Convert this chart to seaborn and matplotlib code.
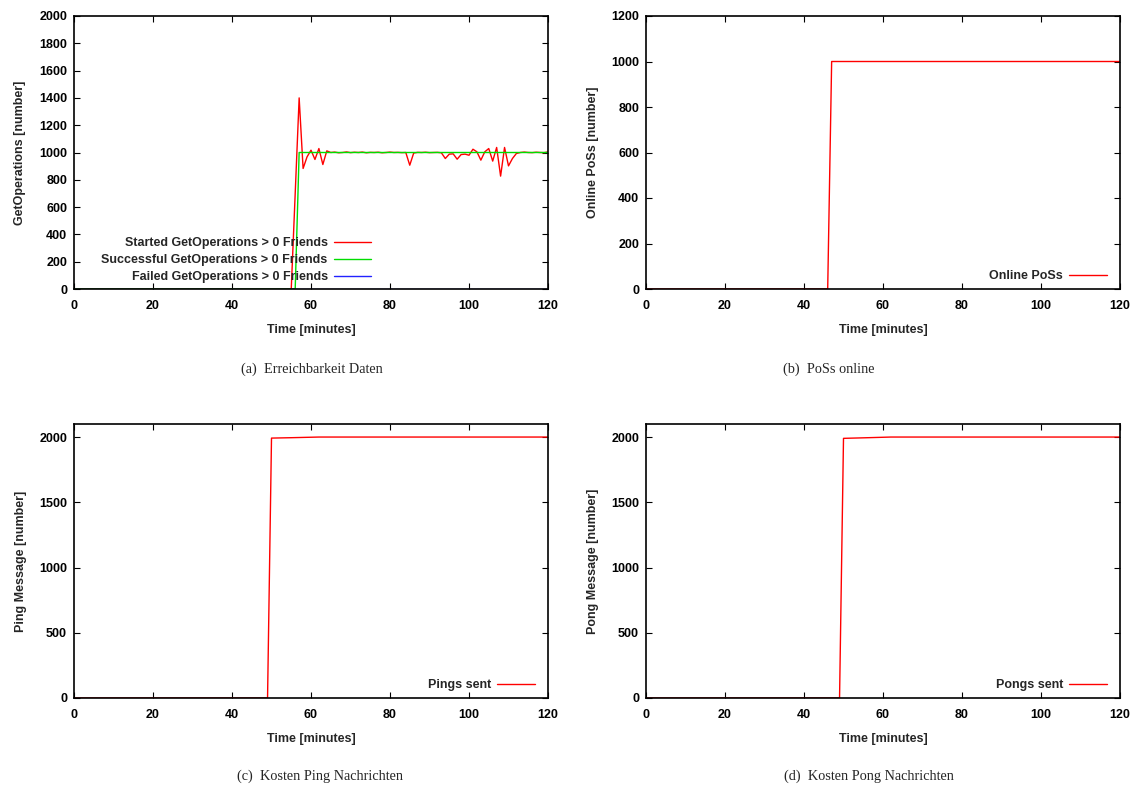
"""Four gnuplot-style panels: GetOperations, PoSs online, ping/pong costs."""
import matplotlib
matplotlib.use("Agg")
import matplotlib.pyplot as plt
import numpy as np
import pandas as pd
import seaborn as sns

# ---- data ----
# (a) GetOperations > 0 Friends, per minute breakpoints
ops_minutes = [0, 55, 56] + list(range(57, 121))
ops_started = [0, 0, 700,
               1400, 883, 968, 1017, 949, 1029, 912, 1012,            # 57-64
               1000, 1003, 998, 1000, 1004, 999, 1002, 1000, 1003, 998,  # 65-74
               1001, 1000, 1002, 998, 1000, 1003, 1000, 1001, 999, 1000,  # 75-84
               907, 996, 1001, 1000, 1002, 999, 1000, 1001, 998,          # 85-93
               956, 988, 990, 951, 985, 988, 980, 1024, 1005, 944,        # 94-103
               1005, 1029, 937, 1037, 827, 1037, 902, 956, 993, 1000,     # 104-113
               1003, 1000, 999, 1002, 1000, 999, 1004]                    # 114-120
ops_success = [0, 0, 0] + [1000] * 64
ops_failed = [0] * 67

# (b) online PoSs
poss_minutes = [0, 46, 47, 120]
poss_online = [0, 0, 1000, 1000]

# (c) pings sent, (d) pongs sent
msg_minutes = [0, 49, 50, 55, 62, 120]
pings_sent = [0, 0, 1992, 1995, 2000, 2000]
pongs_sent = [0, 0, 1990, 1994, 2000, 2000]

captions = ["(a)  Erreichbarkeit Daten", "(b)  PoSs online",
            "(c)  Kosten Ping Nachrichten", "(d)  Kosten Pong Nachrichten"]

RED, GREEN, BLUE = "#ff0000", "#00dd00", "#2222ff"
FS = 9.0


def setup_style():
    sns.set_theme(style="ticks")
    plt.rcParams["font.family"] = ["Liberation Sans", "DejaVu Sans"]
    plt.rcParams["font.weight"] = "bold"
    plt.rcParams["axes.labelweight"] = "bold"
    plt.rcParams["font.size"] = FS


def style_axes(ax, ylim, yticks, ylabel):
    ax.set_xlim(0, 120)
    ax.set_xticks(np.arange(0, 121, 20))
    ax.set_ylim(*ylim)
    ax.set_yticks(yticks)
    ax.tick_params(direction="in", top=True, right=True, length=4.5, width=0.8,
                   colors="black", labelsize=FS)
    ax.tick_params(axis="x", pad=8)
    ax.tick_params(axis="y", pad=5)
    for s in ax.spines.values():
        s.set_visible(True)
        s.set_linewidth(1.2)
        s.set_color("black")
    ax.set_xlabel("Time [minutes]", fontsize=FS, labelpad=8.5)
    ax.set_ylabel(ylabel, fontsize=FS, labelpad=9)


def add_legend(ax, anchor):
    leg = ax.legend(loc="lower right", bbox_to_anchor=anchor, frameon=False,
                    markerfirst=False, handlelength=3.0, handletextpad=0.5,
                    labelspacing=0.4, borderaxespad=0, fontsize=FS)
    for t in leg.get_texts():
        t.set_fontweight("bold")


setup_style()
fig = plt.figure(figsize=(11.37, 7.91), dpi=100)
W, H = 1137, 791


def add_ax(l, r, t, b):
    return fig.add_axes([l / W, 1 - b / H, (r - l) / W, (b - t) / H])


ax_a = add_ax(74, 548, 16, 289)
ax_b = add_ax(646, 1120, 16, 289)
ax_c = add_ax(74, 548, 424, 698)
ax_d = add_ax(646, 1120, 424, 698)

# (a)
df_a = pd.concat([
    pd.DataFrame({"t": ops_minutes, "v": ops_started, "s": "Started GetOperations > 0 Friends"}),
    pd.DataFrame({"t": ops_minutes, "v": ops_success, "s": "Successful GetOperations > 0 Friends"}),
    pd.DataFrame({"t": ops_minutes, "v": ops_failed, "s": "Failed GetOperations > 0 Friends"}),
])
sns.lineplot(data=df_a, x="t", y="v", hue="s", palette=[RED, GREEN, BLUE],
             lw=1.0, ax=ax_a, estimator=None, sort=False)
style_axes(ax_a, (0, 2000), np.arange(0, 2001, 200), "GetOperations [number]")
add_legend(ax_a, (0.638, 0.004))

# (b)
df_b = pd.DataFrame({"t": poss_minutes, "v": poss_online, "s": "Online PoSs"})
sns.lineplot(data=df_b, x="t", y="v", hue="s", palette=[RED], lw=1.0, ax=ax_b,
             estimator=None, sort=False)
style_axes(ax_b, (0, 1200), np.arange(0, 1201, 200), "Online PoSs [number]")
add_legend(ax_b, (0.983, 0.006))

# (c), (d)
for ax, vals, name, ylab in [(ax_c, pings_sent, "Pings sent", "Ping Message [number]"),
                             (ax_d, pongs_sent, "Pongs sent", "Pong Message [number]")]:
    df = pd.DataFrame({"t": msg_minutes, "v": vals, "s": name})
    sns.lineplot(data=df, x="t", y="v", hue="s", palette=[RED], lw=1.0, ax=ax,
                 estimator=None, sort=False)
    style_axes(ax, (0, 2100), np.arange(0, 2001, 500), ylab)
    add_legend(ax, (0.983, 0.006))

# captions under each panel
for (x, y), text in zip([(241, 369), (783, 369), (237, 776), (784, 776)], captions):
    fig.text(x / W, 1 - y / H, text, ha="left", va="center",
             fontsize=10.3, fontweight="normal", family=["Liberation Serif", "DejaVu Serif"])

fig.savefig("out.png", dpi=100)
plt.close(fig)
